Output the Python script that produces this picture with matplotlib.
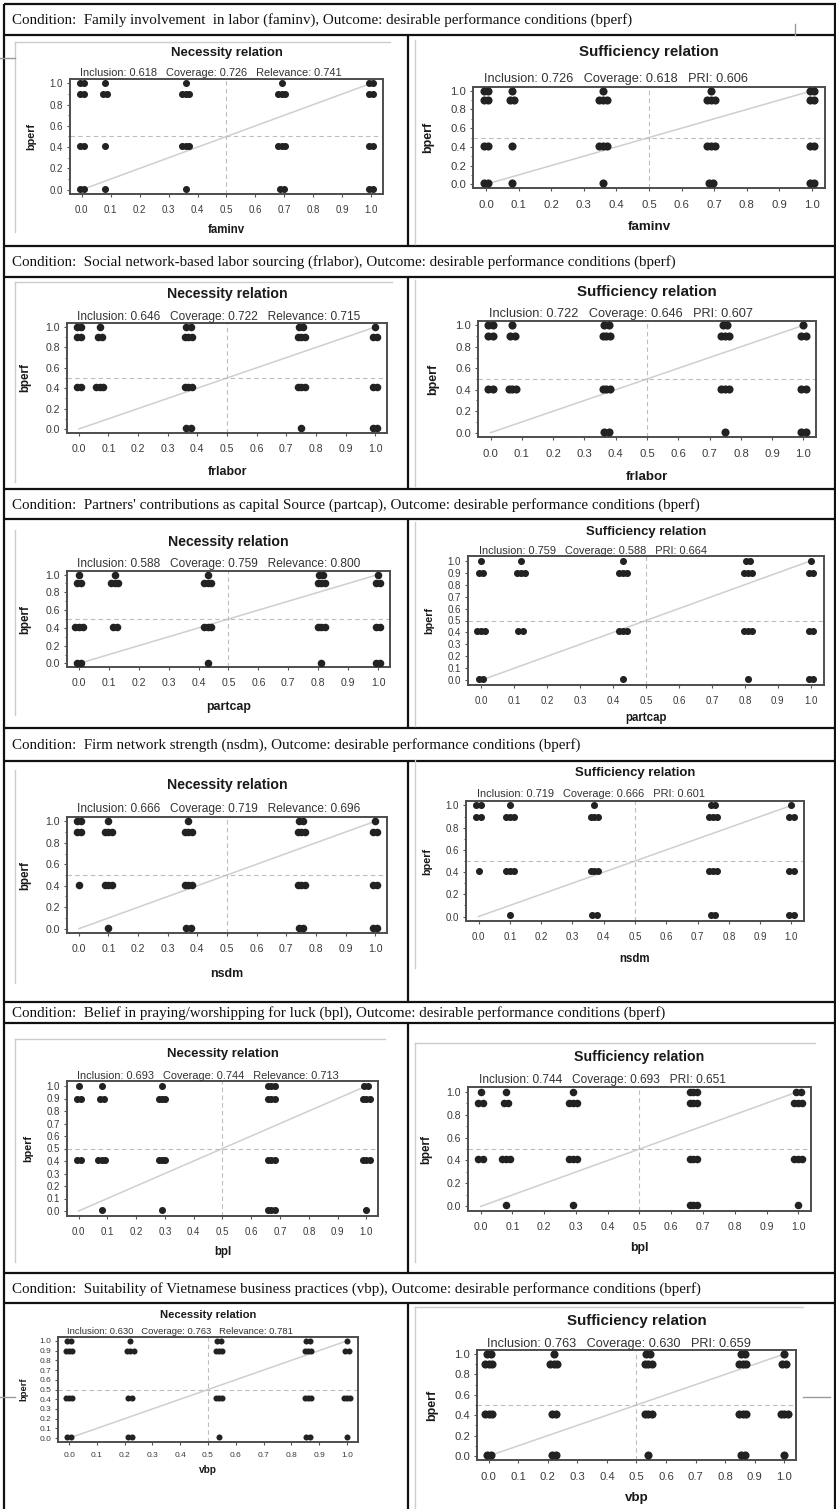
import matplotlib
matplotlib.use("Agg")
import matplotlib.pyplot as plt
import numpy as np

W, H = 837, 1509

CONDITIONS = ["faminv", "frlabor", "partcap", "nsdm", "bpl", "vbp"]
CAPTIONS = [
    "Condition:  Family involvement  in labor (faminv), Outcome: desirable performance conditions (bperf)",
    "Condition:  Social network-based labor sourcing (frlabor), Outcome: desirable performance conditions (bperf)",
    "Condition:  Partners' contributions as capital Source (partcap), Outcome: desirable performance conditions (bperf)",
    "Condition:  Firm network strength (nsdm), Outcome: desirable performance conditions (bperf)",
    "Condition:  Belief in praying/worshipping for luck (bpl), Outcome: desirable performance conditions (bperf)",
    "Condition:  Suitability of Vietnamese business practices (vbp), Outcome: desirable performance conditions (bperf)",
]

# outcome (bperf) membership levels
BPERF_LEVELS = [1.0, 0.9, 0.41, 0.01]

# calibrated condition levels, one list per condition
X_LEVELS = [
    [0.0, 0.08, 0.36, 0.69, 1.0],
    [0.0, 0.07, 0.37, 0.75, 1.0],
    [0.0, 0.12, 0.43, 0.81, 1.0],
    [0.0, 0.10, 0.37, 0.75, 1.0],
    [0.0, 0.08, 0.29, 0.67, 1.0],
    [0.0, 0.22, 0.54, 0.86, 1.0],
]

# number of cases at (x level, bperf level); rows follow BPERF_LEVELS
COUNTS = [
    [[2, 1, 1, 1, 2], [2, 2, 3, 3, 2], [2, 1, 3, 3, 2], [2, 1, 1, 2, 2]],
    [[2, 1, 2, 2, 1], [2, 2, 3, 3, 2], [2, 3, 3, 3, 2], [0, 0, 2, 1, 2]],
    [[1, 1, 1, 2, 1], [2, 3, 3, 3, 2], [3, 2, 3, 3, 2], [2, 0, 1, 1, 2]],
    [[2, 1, 1, 2, 1], [2, 3, 3, 3, 2], [1, 3, 3, 3, 2], [0, 1, 2, 2, 2]],
    [[1, 1, 1, 3, 2], [2, 2, 3, 3, 3], [2, 3, 3, 3, 3], [0, 1, 1, 3, 1]],
    [[2, 1, 2, 2, 1], [3, 3, 3, 3, 2], [3, 2, 3, 3, 3], [2, 2, 1, 2, 1]],
]

# (inclusion, coverage, relevance)
NEC_SCORES = [
    (0.618, 0.726, 0.741),
    (0.646, 0.722, 0.715),
    (0.588, 0.759, 0.800),
    (0.666, 0.719, 0.696),
    (0.693, 0.744, 0.713),
    (0.630, 0.763, 0.781),
]
# (inclusion, coverage, PRI)
SUF_SCORES = [
    (0.726, 0.618, 0.606),
    (0.722, 0.646, 0.607),
    (0.759, 0.588, 0.664),
    (0.719, 0.666, 0.601),
    (0.744, 0.693, 0.651),
    (0.763, 0.630, 0.659),
]

# ---- layout (pixel coords of the 837x1509 page) ----
CAPTION_BANDS = [(4, 35), (246, 277), (489, 519), (728, 761), (1002, 1023), (1273, 1303)]
# x0, y0, x1, y1, title_y, sub_y, xlab_y, fontsize, ytick step
PANELS = [
    [(70, 79, 383, 194, 53, 73, 230, 6.5, 0.2), (473, 87, 825, 188, 52, 79, 227, 7.5, 0.2)],
    [(67, 323, 387, 433, 294, 317, 472, 7.0, 0.2), (478, 321, 816, 437, 292, 314, 477, 7.5, 0.2)],
    [(67, 571, 390, 667, 542, 564, 707, 7.0, 0.2), (468, 556, 824, 685, 532, 551, 718, 6.5, 0.1)],
    [(67, 817, 387, 933, 785, 809, 974, 7.0, 0.2), (466, 801, 804, 921, 773, 794, 959, 6.5, 0.2)],
    [(67, 1081, 378, 1216, 1054, 1076, 1252, 6.5, 0.1), (468, 1087, 811, 1211, 1057, 1080, 1248, 7.0, 0.2)],
    [(58, 1337, 358, 1442, 1315, 1331, 1470, 5.6, 0.1), (477, 1350, 796, 1460, 1321, 1344, 1498, 7.5, 0.2)],
]
OFFSETS = {1: [0.0], 2: [-0.007, 0.007], 3: [-0.012, 0.0, 0.012]}
SANS = "Liberation Sans"


def fx(x):
    return x / W


def fy(y):
    return 1 - y / H


def draw_panel(fig, spec, i, kind):
    x0, y0, x1, y1, ty, sy, ly, fs, ystep = spec
    ax = fig.add_axes([fx(x0), fy(y1), (x1 - x0) / W, (y1 - y0) / H])
    ax.set_xlim(-0.04, 1.04)
    ax.set_ylim(-0.04, 1.04)

    ax.plot([0, 1], [0, 1], color="#cfcfcf", lw=1.1, zorder=1)
    ax.axhline(0.5, color="#bdbdbd", lw=0.8, ls=(0, (4, 3)), zorder=1)
    ax.axvline(0.5, color="#bdbdbd", lw=0.8, ls=(0, (4, 3)), zorder=1)

    ms = fs * 0.78
    for r, yv in enumerate(BPERF_LEVELS):
        for c, xv in enumerate(X_LEVELS[i]):
            n = COUNTS[i][r][c]
            if n == 0:
                continue
            xs = [xv + d for d in OFFSETS[n]]
            ax.plot(xs, [yv] * n, "o", color="#222222", ms=ms, mew=0, zorder=3)

    tfs = fs * 1.08
    xt = np.round(np.arange(0, 1.001, 0.1), 1)
    ax.set_xticks(xt)
    ax.set_xticklabels([f"{v:.1f}" for v in xt])
    yt = np.round(np.arange(0, 1.001, ystep), 1)
    ax.set_yticks(yt)
    ax.set_yticklabels([f"{v:.1f}" for v in yt])
    if ystep > 0.1:
        ax.set_yticks(np.round(np.arange(0.1, 1.0, 0.2), 1), minor=True)
    ax.tick_params(axis="both", which="major", labelsize=tfs, colors="#555555",
                   labelcolor="#3a3a3a", length=2.5, width=0.8)
    ax.tick_params(axis="x", pad=fs * 0.8)
    ax.tick_params(axis="y", pad=2.5)
    ax.tick_params(axis="y", which="minor", length=1.8, width=0.7, colors="#555555")
    for lab in ax.get_xticklabels() + ax.get_yticklabels():
        lab.set_family(SANS)
    for s in ax.spines.values():
        s.set_color("#4d4d4d")
        s.set_linewidth(1.4)

    cx = (x0 + x1) / 2
    title = "Necessity relation" if kind == "nec" else "Sufficiency relation"
    fig.text(fx(cx), fy(ty), title, ha="center", va="center", fontsize=fs * 1.45,
             fontweight="bold", color="#1a1a1a", family=SANS)
    if kind == "nec":
        inc, cov, rel = NEC_SCORES[i]
        sub = f"Inclusion: {inc:.3f}   Coverage: {cov:.3f}   Relevance: {rel:.3f}"
    else:
        inc, cov, pri = SUF_SCORES[i]
        sub = f"Inclusion: {inc:.3f}   Coverage: {cov:.3f}   PRI: {pri:.3f}"
    # subtitle starts at x = 0 in data units
    sub_x = x0 + 0.04 / 1.08 * (x1 - x0) - 2
    fig.text(fx(sub_x), fy(sy), sub, ha="left", va="center", fontsize=fs * 1.22,
             color="#333333", family=SANS)
    fig.text(fx(cx), fy(ly), CONDITIONS[i], ha="center", va="center",
             fontsize=fs * 1.28, fontweight="bold", color="#1a1a1a", family=SANS)
    fig.text(fx(x0 - fs * 6.0), fy((y0 + y1) / 2), "bperf", ha="center", va="center",
             rotation=90, fontsize=fs * 1.2, fontweight="bold", color="#1a1a1a",
             family=SANS)


fig = plt.figure(figsize=(W / 100, H / 100), dpi=100)
fig.patch.set_facecolor("white")

bg = fig.add_axes([0, 0, 1, 1])
bg.set_xlim(0, W)
bg.set_ylim(H, 0)
bg.axis("off")

blk = dict(color="#111111", lw=1.6, solid_capstyle="butt")
grey = dict(color="#cccccc", lw=1.0)

# captions and frame
for k, (top, bot) in enumerate(CAPTION_BANDS):
    bg.plot([4, W], [top, top], **blk)
    bg.plot([4, W], [bot, bot], **blk)
    bg.text(12, (top + bot) / 2 + 1, CAPTIONS[k], ha="left", va="center",
            fontsize=10.8, family="Liberation Serif", color="#111111")
    nxt = CAPTION_BANDS[k + 1][0] if k + 1 < len(CAPTION_BANDS) else H
    bg.plot([408, 408], [bot, nxt], **blk)
bg.plot([4, 4], [4, H], **blk)
bg.plot([835, 835], [4, H], **blk)

# faint device borders of the pasted R plots
for top, bot in [(42, 232), (282, 482), (530, 715), (770, 983), (1039, 1262)]:
    bg.plot([15, 15], [top, bot], **grey)
for top, bot in [(40, 244), (280, 486), (522, 726), (760, 968), (1043, 1262), (1307, H)]:
    bg.plot([415, 415], [top, bot], **grey)
bg.plot([15, 390], [42, 42], **grey)
bg.plot([15, 392], [282, 282], **grey)
bg.plot([15, 385], [1039, 1039], **grey)
bg.plot([415, 815], [1043, 1043], **grey)
bg.plot([415, 803], [1307, 1307], **grey)
bg.plot([0, 15], [58, 58], color="#999999", lw=1.0)
bg.plot([0, 15], [1397, 1397], color="#999999", lw=1.0)
bg.plot([803, 830], [1397, 1397], color="#999999", lw=1.0)
bg.plot([795, 795], [24, 35], color="#999999", lw=1.0)

for i in range(len(CONDITIONS)):
    draw_panel(fig, PANELS[i][0], i, "nec")
    draw_panel(fig, PANELS[i][1], i, "suf")

fig.savefig("out.png", dpi=100, facecolor="white")
